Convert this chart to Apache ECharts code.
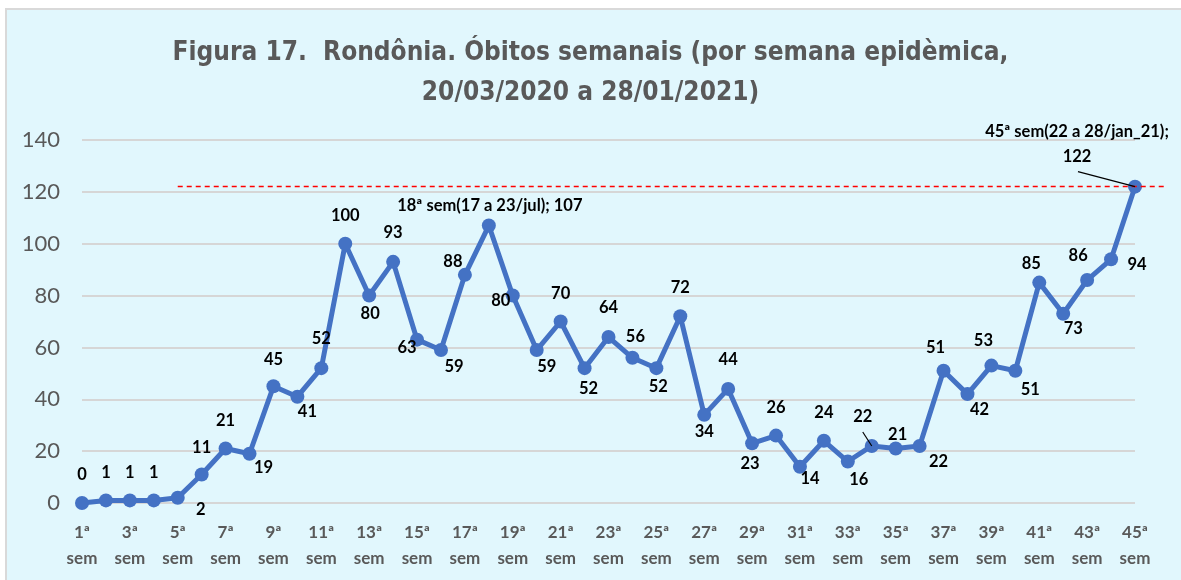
<!DOCTYPE html>
<html>
<head>
<meta charset="utf-8">
<script src="https://cdn.jsdelivr.net/npm/echarts@6/dist/echarts.min.js"></script>
<style>
  html, body { margin: 0; padding: 0; background: #fff; width: 1181px; height: 580px; overflow: hidden; }
  #frame { position: absolute; left: 5px; top: 8px; width: 1180px; height: 580px;
           border-left: 2px solid #d9d9d9; border-top: 2px solid #d9d9d9; background: #e1f7fd; }
  #main { position: absolute; left: 0; top: 0; width: 1181px; height: 580px; }
</style>
</head>
<body>
<div id="frame"></div>
<div id="main"></div>
<script>
// semanas epidemiológicas 1..45
const weeks = Array.from({ length: 45 }, (_, i) => (i + 1) + "ª sem");
const deaths = [0, 1, 1, 1, 2, 11, 21, 19, 45, 41, 52, 100, 80, 93, 63, 59, 88, 107, 80, 59,
  70, 52, 64, 56, 52, 72, 34, 44, 23, 26, 14, 24, 16, 22, 21, 22, 51, 42, 53, 51,
  85, 73, 86, 94, 122];
const yMin = 0, yMax = 140, yStep = 20;
const peakLevel = 122; // linha tracejada vermelha
const callouts = { 17: "18ª sem(17 a 23/jul); 107", 44: "45ª sem(22 a 28/jan_21);\n122" };

// label placement (dx, dy from the point centre)
const labelOffsets = [
  [0, -28], [0, -28], [0, -28], [0, -28], [23, 12], [0, -27], [0, -28], [14, 14], [0, -27], [10, 15],
  [0, -29], [0, -28], [1, 18], [0, -29], [-10, 8], [13, 17], [-12, -13], [1, -20], [-12, 5], [10, 17],
  [0, -28], [4, 21], [0, -29], [3, -21], [2, 19], [0, -29], [0, 17], [0, -29], [-2, 20], [0, -28],
  [10, 12], [0, -28], [11, 18], [-9, -29], [2, -14], [19, 16], [-8, -23], [12, 16], [-8, -25], [15, 19],
  [-8, -19], [10, 15], [-9, -24], [26, 5], [-58, -42]
];
// leader lines: point index -> far end (dx, dy from the point)
const leaders = { 33: [-9, -14], 44: [-57, -15] };

const chart = echarts.init(document.getElementById("main"));

const points = deaths.map((v, i) => ({
  value: v,
  label: { offset: labelOffsets[i] }
}));

const option = {
  backgroundColor: "transparent",
  animation: false,
  title: {
    text: "Figura 17.  Rondônia. Óbitos semanais (por semana epidèmica,\n20/03/2020 a 28/01/2021)",
    left: "center",
    top: 28,
    textStyle: {
      fontFamily: "'DejaVu Sans Condensed', Lato",
      fontWeight: "bold",
      fontSize: 26,
      lineHeight: 40,
      color: "#595959"
    }
  },
  grid: { left: 82, right: 46, top: 140, bottom: 77 },
  xAxis: {
    type: "category",
    data: weeks,
    boundaryGap: false,
    axisLine: { show: false },
    axisTick: { show: false },
    axisLabel: {
      interval: 1,
      margin: 17,
      fontFamily: "Lato",
      fontWeight: "bold",
      fontSize: 17,
      lineHeight: 26,
      color: "#595959",
      formatter: (v) => v.replace(" ", "\n")
    }
  },
  yAxis: {
    type: "value",
    min: yMin,
    max: yMax,
    interval: yStep,
    axisLine: { show: false },
    axisTick: { show: false },
    axisLabel: { fontFamily: "Lato", fontSize: 22, color: "#595959", margin: 22 },
    splitLine: { lineStyle: { color: "#d6d6d6", width: 2 } }
  },
  series: [
    {
      name: "Óbitos",
      type: "line",
      data: points,
      symbol: "circle",
      symbolSize: 14,
      color: "#4472c4",
      lineStyle: { width: 5, color: "#4472c4" },
      itemStyle: { color: "#4472c4" },
      label: {
        show: true,
        position: "inside",
        align: "center",
        verticalAlign: "middle",
        fontFamily: "Lato",
        fontWeight: "bold",
        fontSize: 16.5,
        lineHeight: 25,
        color: "#000",
        formatter: (p) => callouts[p.dataIndex] || String(p.value)
      },
      markLine: {
        silent: true,
        symbol: "none",
        label: { show: false },
        lineStyle: { color: "#ff0000", type: [5, 4], width: 1.3 },
        data: [[{ coord: [4, peakLevel] }, { coord: [44, peakLevel] }]]
      }
    }
  ]
};

chart.setOption(option);

// extend dashed line slightly past the last point, and add the label leader lines
const yPx = chart.convertToPixel({ yAxisIndex: 0 }, peakLevel);
const leaderLines = Object.keys(leaders).map((k) => {
  const i = +k;
  const p = chart.convertToPixel({ seriesIndex: 0 }, [i, deaths[i]]);
  return [
    { coord: [i, deaths[i]], lineStyle: { color: "#000", type: "solid", width: 1.2 } },
    { x: p[0] + leaders[k][0], y: p[1] + leaders[k][1] }
  ];
});
chart.setOption({
  series: [{
    markLine: { data: [[{ coord: [4, peakLevel] }, { x: 1165, y: yPx }]].concat(leaderLines) }
  }]
});
</script>
</body>
</html>
